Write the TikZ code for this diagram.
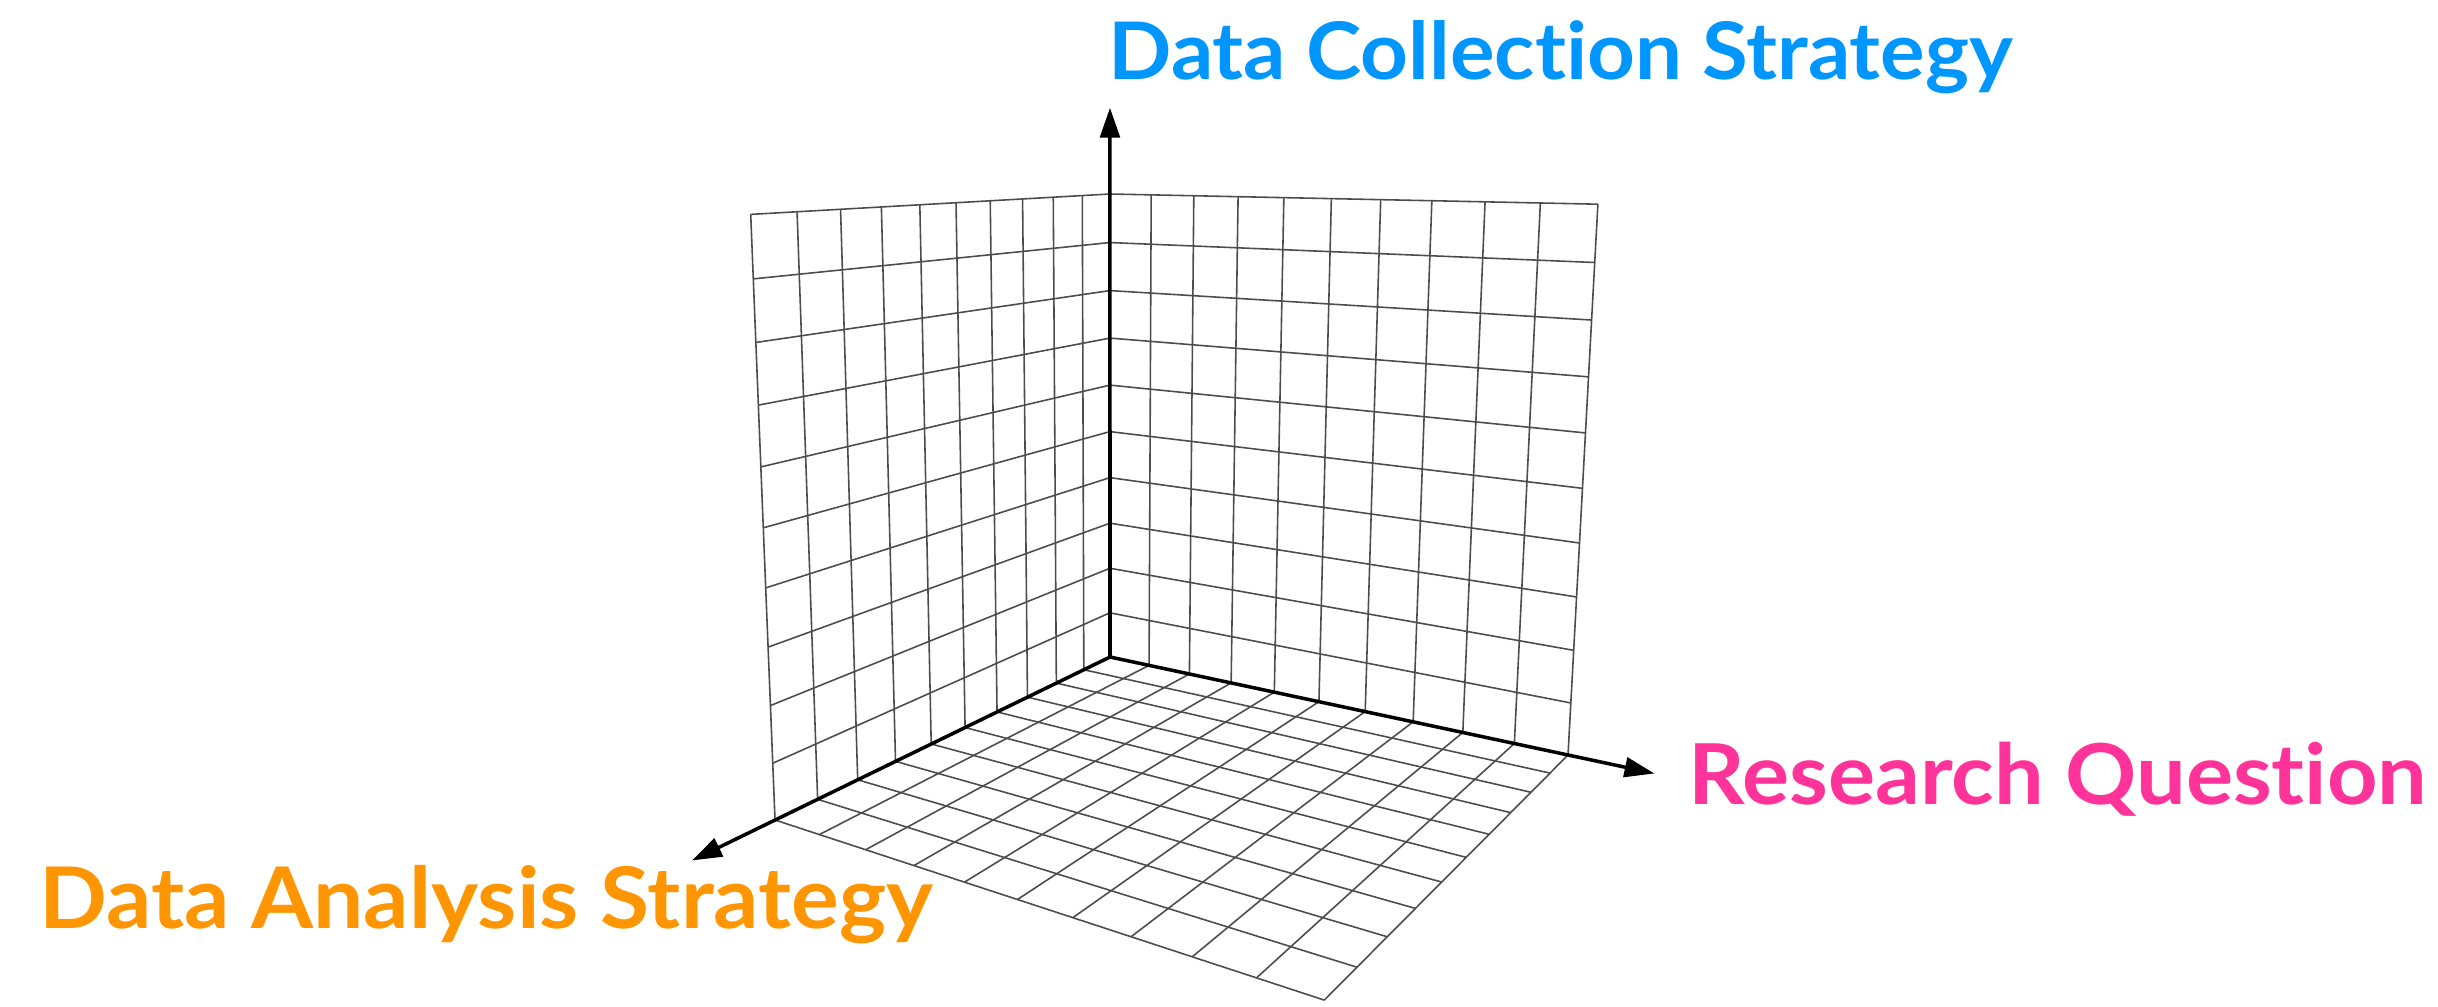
\documentclass[tikz,border=0pt]{standalone}
\usepackage{fontspec}
\newfontfamily\labfont{Lato}[FakeStretch=1.05, Ligatures=NoCommon]
\usetikzlibrary{arrows.meta}
\definecolor{dcsblue}{RGB}{0,150,255}
\definecolor{rqpink}{RGB}{255,51,153}
\definecolor{dasorange}{RGB}{255,149,0}
\tikzset{
  declare function={
    pw(\xx,\yy,\zz)=1-0.023724*\xx-0.016039*\yy-0.00516*\zz;
    pu(\xx,\yy,\zz)=(1110-51.886*\xx+20.65*\yy-5.728*\zz)/pw(\xx,\yy,\zz)/100;
    pv(\xx,\yy,\zz)=(1006-(657-3.154*\xx-2.309*\yy-47.3*\zz)/pw(\xx,\yy,\zz))/100;
  },
  gridline/.style={draw=black!70, line width=0.45pt},
  axisline/.style={draw=black, line width=1pt, -{Triangle[length=8.5pt,width=5.6pt]}},
  axlabel/.style={anchor=base west, inner sep=0pt},
}
\begin{document}
\begin{tikzpicture}
\useasboundingbox (0,0) rectangle (24.38,10.06);
% left wall (Y=0)
\foreach \i in {0,...,10}{
  \draw[gridline] ({pu(\i,0,0)},{pv(\i,0,0)}) -- ({pu(\i,0,10)},{pv(\i,0,10)});
  \draw[gridline] ({pu(0,0,\i)},{pv(0,0,\i)}) -- ({pu(10,0,\i)},{pv(10,0,\i)});
}
% right wall (X=0)
\foreach \i in {0,...,10}{
  \draw[gridline] ({pu(0,\i,0)},{pv(0,\i,0)}) -- ({pu(0,\i,10)},{pv(0,\i,10)});
  \draw[gridline] ({pu(0,0,\i)},{pv(0,0,\i)}) -- ({pu(0,10,\i)},{pv(0,10,\i)});
}
% floor (Z=0)
\foreach \i in {0,...,10}{
  \draw[gridline] ({pu(\i,0,0)},{pv(\i,0,0)}) -- ({pu(\i,10,0)},{pv(\i,10,0)});
  \draw[gridline] ({pu(0,\i,0)},{pv(0,\i,0)}) -- ({pu(10,\i,0)},{pv(10,\i,0)});
}
% axes
\coordinate (O) at ({pu(0,0,0)},{pv(0,0,0)});
\coordinate (Xtip) at ({pu(11.785,0,0)},{pv(11.785,0,0)});
\coordinate (Ytip) at ({pu(0,11.54,0)},{pv(0,11.54,0)});
\coordinate (Ztip) at ({pu(0,0,11.75)},{pv(0,0,11.75)});
\draw[axisline] (O) -- (Xtip);
\draw[axisline] (O) -- (Ytip);
\draw[axisline] (O) -- (Ztip);
% labels
\node[axlabel, text=dcsblue, font=\labfont\bfseries\fontsize{22.6}{27}\selectfont] (dcs) at (11.08,9.27) {Data Collection Strategy};
\node[axlabel, text=rqpink, font=\labfont\bfseries\fontsize{23.9}{28}\selectfont] (rq) at (16.88,2.02) {Research Question};
\node[axlabel, text=dasorange, font=\labfont\bfseries\fontsize{24.2}{28}\selectfont] (das) at (0.39,0.78) {Data Analysis Strategy};
\end{tikzpicture}
\end{document}
